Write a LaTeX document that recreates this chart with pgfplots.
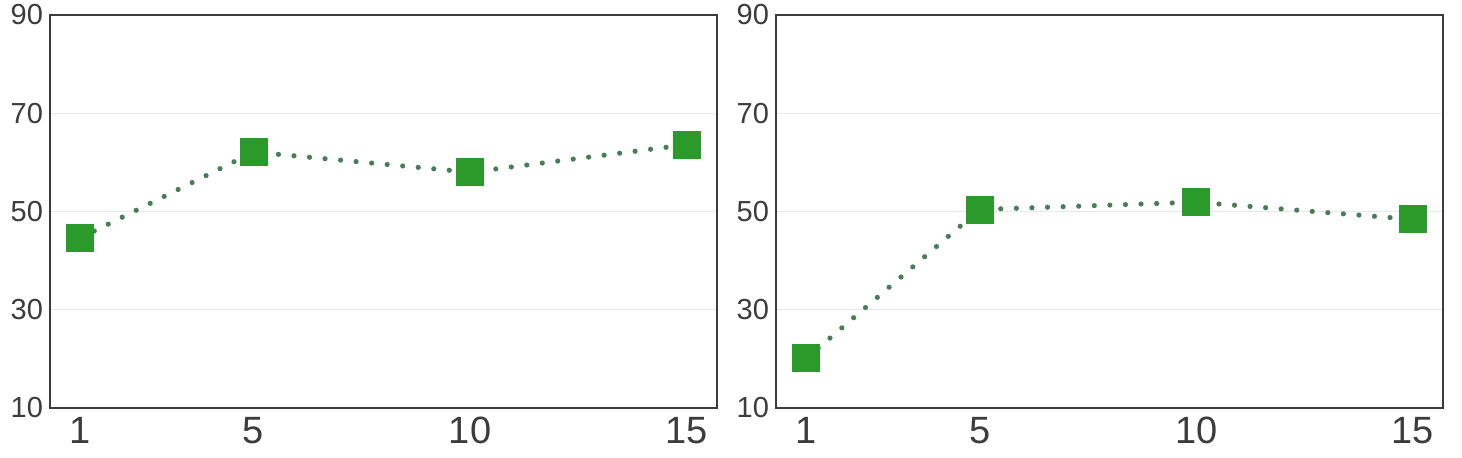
\documentclass[border=0pt]{standalone}
\usepackage{pgfplots}
\pgfplotsset{compat=1.18}
\usepackage{fontspec}
\setmainfont{Liberation Sans}
\definecolor{mk}{RGB}{42,154,42}
\definecolor{ln}{RGB}{72,125,88}
\definecolor{fr}{RGB}{60,60,60}
\definecolor{tx}{RGB}{60,60,60}
\pgfplotsset{
  panel/.style={
    scale only axis,
    width=333.5pt, height=196.5pt,
    xmin=0.3, xmax=15.7, ymin=10, ymax=90,
    xtick={1,5,10,15}, ytick={10,30,50,70,90},
    ymajorgrids, major grid style={line width=0.5pt, draw=black!9},
    axis line style={draw=fr, line width=1pt},
    tick style={draw=none},
    /pgf/number format/assume math mode=true,
    xticklabel style={font=\fontsize{19}{21}\selectfont, text=tx, yshift=-1pt},
    yticklabel style={font=\fontsize{14.5}{16}\selectfont, text=tx},
    axis background/.style={fill=white},
  },
  series/.style={
    color=ln, line width=2.6pt, line cap=round, dash pattern=on 0pt off 7.8pt,
    mark=square*, mark size=6.75pt,
    mark options={solid, fill=mk, draw=mk, line width=0pt},
  }
}
\begin{document}
\begin{tikzpicture}
\useasboundingbox (0,0) rectangle (731pt,229pt);
\begin{axis}[panel, at={(25pt,25pt)}, anchor=south west]
\addplot[series] coordinates {(1,44.6) (5,62.1) (10,58.0) (15,63.6)};
\end{axis}
\begin{axis}[panel, at={(388pt,25pt)}, anchor=south west]
\addplot[series] coordinates {(1,20.1) (5,50.4) (10,51.9) (15,48.4)};
\end{axis}
\end{tikzpicture}
\end{document}
